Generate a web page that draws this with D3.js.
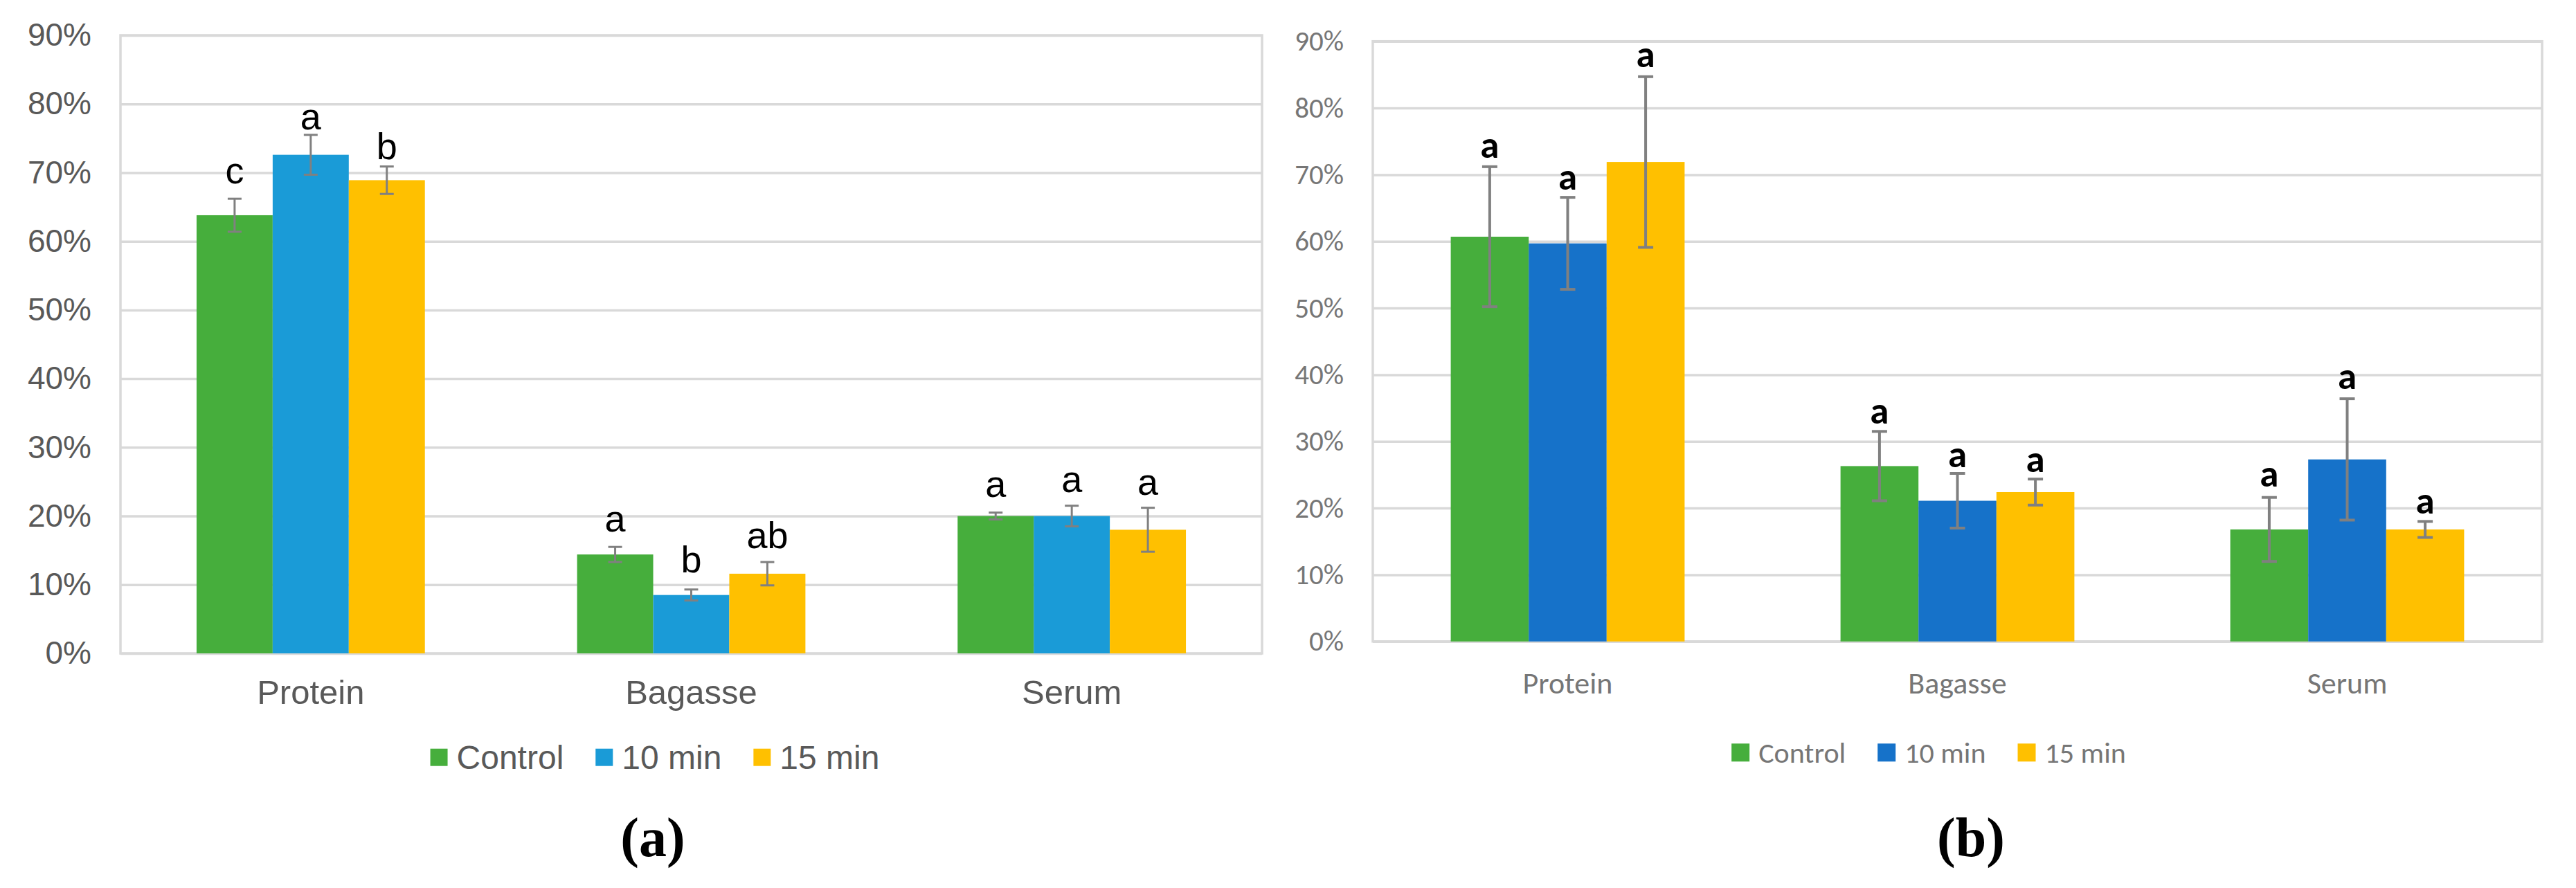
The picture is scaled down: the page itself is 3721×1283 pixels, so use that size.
<!DOCTYPE html>
<html lang="en">
<head>
  <meta charset="UTF-8">
  <title>Protein, Bagasse, Serum</title>
  <style>
    body { margin: 0; background: #fff; }
    svg { display: block; }
  </style>
</head>
<body>
  <svg id="chart" width="3721" height="1283"></svg>

  <script src="https://cdn.jsdelivr.net/npm/d3@7"></script>
  <script>
    // shared labels
    const categories = ["Protein", "Bagasse", "Serum"];
    const seriesNames = ["Control", "10 min", "15 min"];
    const yTicks = [0, 10, 20, 30, 40, 50, 60, 70, 80, 90];

    // panel (a) - values in %
    const aControl = [63.8, 14.4, 20.0];
    const a10min = [72.6, 8.5, 20.0];
    const a15min = [68.9, 11.6, 18.0];
    const aControlErr = [2.4, 1.1, 0.5];
    const a10minErr = [2.9, 0.8, 1.5];
    const a15minErr = [2.0, 1.7, 3.2];
    const aControlLetters = ["c", "a", "a"];
    const a10minLetters = ["a", "b", "a"];
    const a15minLetters = ["b", "ab", "a"];
    const aControlLetterY = [68.4, 17.7, 22.8];
    const a10minLetterY = [76.3, 11.8, 23.5];
    const a15minLetterY = [72.0, 15.35, 23.1];

    // panel (b) - values in %
    const bControl = [60.7, 26.3, 16.8];
    const b10min = [59.7, 21.1, 27.3];
    const b15min = [71.9, 22.4, 16.8];
    const bControlErr = [10.5, 5.2, 4.8];
    const b10minErr = [6.9, 4.1, 9.1];
    const b15minErr = [12.8, 1.95, 1.2];
    const bControlLetters = ["a", "a", "a"];
    const b10minLetters = ["a", "a", "a"];
    const b15minLetters = ["a", "a", "a"];
    const bControlLetterY = [72.5, 32.7, 23.2];
    const b10minLetterY = [67.8, 26.1, 37.9];
    const b15minLetterY = [86.1, 25.4, 19.2];

    const svg = d3.select("#chart");

    function drawPanel(opt) {
      const { left, right, top, bottom } = opt;
      const g = svg.append("g");

      const x = d3.scaleBand().domain(categories).range([left, right]).padding(0);
      const bw = x.bandwidth();
      const xs = d3.scaleBand().domain(seriesNames).range([bw * 0.2, bw * 0.8]);
      const y = d3.scaleLinear().domain([0, 90]).range([bottom, top]);

      // gridlines + tick labels
      const axis = g.append("g")
        .attr("transform", `translate(${left},0)`)
        .call(d3.axisLeft(y).tickValues(yTicks).tickFormat(d => d + "%")
          .tickSize(-(right - left)).tickPadding(42));
      axis.select(".domain").remove();
      axis.selectAll(".tick line").attr("stroke", "#d9d9d9").attr("stroke-width", 3.5);
      axis.selectAll(".tick text")
        .attr("fill", opt.textColor)
        .attr("font-family", opt.font)
        .attr("font-size", opt.tickSize);

      g.append("rect")
        .attr("x", left).attr("y", top)
        .attr("width", right - left).attr("height", bottom - top)
        .attr("fill", "none").attr("stroke", "#d9d9d9").attr("stroke-width", 3.5);

      // bars, error bars, letters
      const rows = [];
      opt.series.forEach((s, si) => {
        categories.forEach((c, ci) => {
          rows.push({
            cat: c, name: seriesNames[si], color: opt.colors[si],
            v: s.values[ci], e: s.err[ci], letter: s.letters[ci], ly: s.letterY[ci]
          });
        });
      });

      g.selectAll("rect.bar").data(rows).join("rect")
        .attr("class", "bar")
        .attr("x", d => x(d.cat) + xs(d.name))
        .attr("y", d => y(d.v))
        .attr("width", xs.bandwidth())
        .attr("height", d => y(0) - y(d.v))
        .attr("fill", d => d.color);

      const cx = d => x(d.cat) + xs(d.name) + xs.bandwidth() / 2;
      const eg = g.selectAll("g.err").data(rows).join("g").attr("class", "err")
        .attr("stroke", "#808080").attr("stroke-width", opt.errWidth);
      eg.append("line")
        .attr("x1", cx).attr("x2", cx)
        .attr("y1", d => y(d.v + d.e)).attr("y2", d => y(d.v - d.e));
      [1, -1].forEach(sign => {
        eg.append("line")
          .attr("x1", d => cx(d) - opt.capHalf).attr("x2", d => cx(d) + opt.capHalf)
          .attr("y1", d => y(d.v + sign * d.e)).attr("y2", d => y(d.v + sign * d.e));
      });

      g.selectAll("text.letter").data(rows).join("text")
        .attr("class", "letter")
        .attr("x", cx)
        .attr("y", d => y(d.ly))
        .attr("text-anchor", "middle")
        .attr("font-family", opt.font)
        .attr("font-size", opt.letterSize)
        .attr("font-weight", opt.letterWeight)
        .attr("fill", "#000")
        .text(d => d.letter);

      // category labels
      g.selectAll("text.cat").data(categories).join("text")
        .attr("class", "cat")
        .attr("x", d => x(d) + bw / 2)
        .attr("y", opt.catY)
        .attr("text-anchor", "middle")
        .attr("font-family", opt.font)
        .attr("font-size", opt.catSize)
        .attr("fill", opt.textColor)
        .text(d => d);

      // legend, centred
      const lg = g.append("g");
      const items = lg.selectAll("g").data(seriesNames).join("g");
      items.append("rect")
        .attr("width", opt.sq).attr("height", opt.sq)
        .attr("y", opt.legendY - opt.sq / 2 - opt.legendSize * 0.35)
        .attr("fill", (d, i) => opt.colors[i]);
      items.append("text")
        .attr("x", opt.sq + 13)
        .attr("y", opt.legendY)
        .attr("font-family", opt.font)
        .attr("font-size", opt.legendSize)
        .attr("fill", opt.textColor)
        .text(d => d);
      let pos = 0;
      items.each(function () {
        const w = opt.sq + 13 + d3.select(this).select("text").node().getComputedTextLength();
        d3.select(this).attr("transform", `translate(${pos},0)`);
        pos += w + 46;
      });
      const total = pos - 46;
      lg.attr("transform", `translate(${opt.legendCx - total / 2},0)`);

      // panel label
      svg.append("text")
        .attr("x", opt.labelCx)
        .attr("y", 1237)
        .attr("text-anchor", "middle")
        .attr("font-family", "'Liberation Serif', 'Times New Roman', serif")
        .attr("font-weight", "bold")
        .attr("font-size", 80)
        .attr("fill", "#000")
        .text(opt.label);
    }

    drawPanel({
      left: 174, right: 1823, top: 51, bottom: 944,
      font: "'Liberation Sans', Arial, sans-serif",
      textColor: "#595959",
      tickSize: 46, catSize: 49, legendSize: 48, letterSize: 54, letterWeight: "normal",
      catY: 1017, legendY: 1111, legendCx: 946, sq: 25,
      errWidth: 3, capHalf: 10,
      colors: ["#46ae3c", "#1a9bd7", "#ffc000"],
      series: [
        { values: aControl, err: aControlErr, letters: aControlLetters, letterY: aControlLetterY },
        { values: a10min, err: a10minErr, letters: a10minLetters, letterY: a10minLetterY },
        { values: a15min, err: a15minErr, letters: a15minLetters, letterY: a15minLetterY }
      ],
      label: "(a)", labelCx: 943
    });

    drawPanel({
      left: 1983, right: 3672, top: 59.7, bottom: 926.8,
      font: "Calibri, Carlito, Lato, sans-serif",
      textColor: "#767676",
      tickSize: 41, catSize: 44, legendSize: 42, letterSize: 55, letterWeight: "bold",
      catY: 1002, legendY: 1102, legendCx: 2786, sq: 26,
      errWidth: 4, capHalf: 11,
      colors: ["#46ae3c", "#1672c9", "#ffc000"],
      series: [
        { values: bControl, err: bControlErr, letters: bControlLetters, letterY: bControlLetterY },
        { values: b10min, err: b10minErr, letters: b10minLetters, letterY: b10minLetterY },
        { values: b15min, err: b15minErr, letters: b15minLetters, letterY: b15minLetterY }
      ],
      label: "(b)", labelCx: 2847
    });
  </script>
</body>
</html>
